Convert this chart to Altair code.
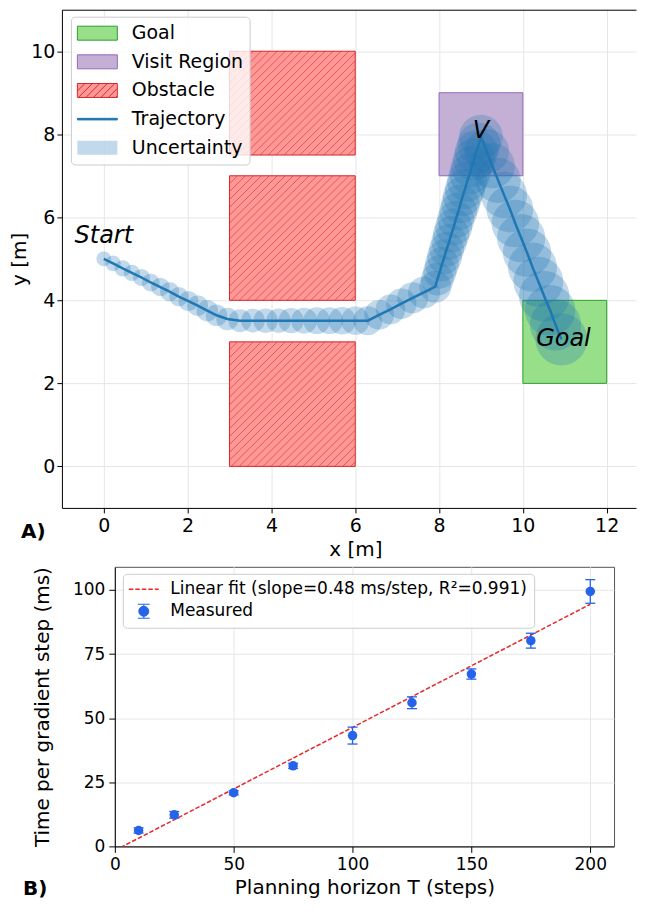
import math
import altair as alt
import pandas as pd

# ---------------- Panel A data ----------------
obs_x0 = [3.0, 3.0, 3.0]
obs_x1 = [6.0, 6.0, 6.0]
obs_y0 = [0.0, 4.0, 7.5]
obs_y1 = [3.0, 7.0, 10.0]

visit_x0, visit_x1, visit_y0, visit_y1 = [8.0], [10.0], [7.0], [9.0]
goal_x0, goal_x1, goal_y0, goal_y1 = [10.0], [12.0], [2.0], [4.0]

traj_x = [0.00, 0.22, 0.45, 0.67, 0.90, 1.12, 1.35, 1.57, 1.79, 2.02, 2.24, 2.47, 2.69,
          2.95, 3.25, 3.56, 3.86, 4.17, 4.47, 4.78, 5.08, 5.39, 5.69, 6.00, 6.30,
          6.57, 6.84, 7.10, 7.37, 7.64, 7.91,
          7.96, 8.02, 8.07, 8.13, 8.18, 8.24, 8.29, 8.35, 8.40, 8.46,
          8.51, 8.56, 8.62, 8.67, 8.73, 8.78, 8.84, 8.89, 8.95, 9.00,
          9.14, 9.27, 9.41, 9.55, 9.69, 9.82, 9.96, 10.10, 10.23, 10.37, 10.51, 10.65, 10.78, 10.92]
traj_y = [5.00, 4.89, 4.77, 4.66, 4.55, 4.43, 4.32, 4.21, 4.09, 3.98, 3.87, 3.75, 3.64,
          3.55, 3.51, 3.51, 3.51, 3.51, 3.51, 3.51, 3.51, 3.51, 3.51, 3.51, 3.51,
          3.65, 3.78, 3.92, 4.06, 4.19, 4.33,
          4.51, 4.69, 4.87, 5.05, 5.23, 5.41, 5.59, 5.77, 5.95, 6.14,
          6.32, 6.50, 6.68, 6.86, 7.04, 7.22, 7.40, 7.58, 7.76, 7.94,
          7.59, 7.24, 6.89, 6.54, 6.20, 5.85, 5.50, 5.15, 4.80, 4.45, 4.10, 3.76, 3.41, 3.06]
traj_r = [0.20, 0.21, 0.22, 0.22, 0.23, 0.24, 0.25, 0.26, 0.26, 0.27, 0.28, 0.29, 0.29,
          0.30, 0.31, 0.32, 0.33, 0.33, 0.34, 0.35, 0.36, 0.36, 0.37, 0.38, 0.39,
          0.40, 0.40, 0.41, 0.42, 0.43, 0.43,
          0.44, 0.45, 0.46, 0.47, 0.47, 0.48, 0.49, 0.50, 0.50, 0.51,
          0.52, 0.53, 0.54, 0.54, 0.55, 0.56, 0.57, 0.58, 0.58, 0.59,
          0.60, 0.61, 0.61, 0.62, 0.63, 0.64, 0.65, 0.65, 0.66, 0.67, 0.68, 0.68, 0.69, 0.70]

label_text = ["Start", "V", "Goal"]
label_x = [0.0, 9.0, 10.97]
label_y = [5.55, 8.07, 3.07]

legend_a_names = ["Goal", "Visit Region", "Obstacle", "Trajectory", "Uncertainty"]

# ---------------- Panel B data ----------------
horizon = [10, 25, 50, 75, 100, 125, 150, 175, 200]
time_ms = [6.2, 12.3, 20.9, 31.4, 43.2, 56.0, 67.2, 80.2, 99.4]
time_err = [1.0, 1.3, 0.8, 1.0, 3.3, 2.3, 2.0, 2.9, 4.6]
fit_x = [0, 200]
fit_y = [-1.6, 94.4]
legend_b_names = ["Linear fit (slope=0.48 ms/step, R\u00b2=0.991)", "Measured"]

# ---------------- styling helpers ----------------
PX_PER_UNIT = 42.0
BLUE = "#1f77b4"
PT_BLUE = "#2563eb"
FIT_RED = "#e8282b"


def hatch_segments(x0, x1, y0, y1, step):
    segs = []
    h = y1 - y0
    c = x0 - h
    while c < x1:
        sx = max(c, x0)
        ex = min(c + h, x1)
        if ex - sx > 1e-6:
            segs.append((sx, y0 + (sx - c), ex, y0 + (ex - c)))
        c += step
    return segs


def rect_path(hw, hh):
    return f"M{-hw},{-hh}H{hw}V{hh}H{-hw}Z"


def hatched_rect_path(hw, hh, step):
    p = rect_path(hw, hh)
    c = -hw - 2 * hh
    while c < hw:
        sx = max(c, -hw)
        ex = min(c + 2 * hh, hw)
        if ex - sx > 1e-6:
            p += f"M{sx:.3f},{hh - (sx - c):.3f}L{ex:.3f},{hh - (ex - c):.3f}"
        c += step
    return p


def dashed_path(hw, t, on, off):
    p = ""
    x = -hw
    while x < hw:
        e = min(x + on, hw)
        p += f"M{x:.3f},{-t}H{e:.3f}V{t}H{x:.3f}Z"
        x += on + off
    return p


def errorbar_path(r, bar, cap):
    return (f"M{-r},0A{r},{r} 0 1,0 {r},0A{r},{r} 0 1,0 {-r},0Z"
            f"M0,{-bar}V{bar}M{-cap},{-bar}H{cap}M{-cap},{bar}H{cap}")


# ---------------- data frames ----------------
obs_df = pd.DataFrame({"x0": obs_x0, "x1": obs_x1, "y0": obs_y0, "y1": obs_y1})
hs = []
for a, b, c, d in zip(obs_x0, obs_x1, obs_y0, obs_y1):
    hs += hatch_segments(a, b, c, d, 0.19)
hatch_df = pd.DataFrame(hs, columns=["hx0", "hy0", "hx1", "hy1"])
visit_df = pd.DataFrame({"x0": visit_x0, "x1": visit_x1, "y0": visit_y0, "y1": visit_y1})
goal_df = pd.DataFrame({"x0": goal_x0, "x1": goal_x1, "y0": goal_y0, "y1": goal_y1})
traj_df = pd.DataFrame({"i": list(range(len(traj_x))), "x": traj_x, "y": traj_y, "r": traj_r})
lab_df = pd.DataFrame({"t": label_text, "x": label_x, "y": label_y})
lega_df = pd.DataFrame({"cat": legend_a_names, "px": [float("nan")] * 5, "py": [float("nan")] * 5})

meas_df = pd.DataFrame({"T": horizon, "ms": time_ms, "err": time_err})
fit_df = pd.DataFrame({"T": fit_x, "ms": fit_y})
legb_df = pd.DataFrame({"cat": legend_b_names, "px": [float("nan")] * 2, "py": [float("nan")] * 2})

# ---------------- Panel A ----------------
WA, HA = 575, 499
xsA = alt.Scale(domain=[-1, 12.7], nice=False, zero=False)
ysA = alt.Scale(domain=[-1, 11], nice=False, zero=False)
common_axis = dict(tickColor="black", domainColor="black", labelColor="black",
                   titleColor="black", gridColor="#e6e6e6", titleFontWeight="normal",
                   minExtent=0)
x_axis_A = alt.Axis(values=[0, 2, 4, 6, 8, 10, 12], title="x [m]", titleX=294,
                    labelFontSize=19, titleFontSize=20, tickSize=5, labelPadding=4,
                    titlePadding=4, labelFlush=False, **common_axis)
x_axis_top = alt.Axis(orient="top", labels=False, ticks=False, title=None, domain=True,
                      domainColor="black", grid=False, minExtent=0)
y_axis_A = alt.Axis(values=[0, 2, 4, 6, 8, 10], title="y [m]", labelFontSize=19,
                    titleFontSize=20, tickSize=5, labelPadding=2, titlePadding=1,
                    labelFlush=False, **common_axis)


def XA(f, axis=None):
    if axis is None:
        return alt.X(f, scale=xsA, axis=None)
    return alt.X(f, scale=xsA, axis=axis)


def YA(f):
    return alt.Y(f, scale=ysA, axis=y_axis_A)


obs_layer = alt.Chart(obs_df).mark_rect(fill="#ff9896", stroke="#d62728", strokeWidth=1).encode(
    x=XA("x0:Q", x_axis_A), x2="x1:Q", y=YA("y0:Q"), y2="y1:Q")
hatch_layer = alt.Chart(hatch_df).mark_rule(color="#d62728", strokeWidth=0.9, opacity=0.65).encode(
    x=XA("hx0:Q", x_axis_top), x2="hx1:Q", y=YA("hy0:Q"), y2="hy1:Q")
visit_layer = alt.Chart(visit_df).mark_rect(fill="#c5b0d5", stroke="#9467bd", strokeWidth=1).encode(
    x=XA("x0:Q"), x2="x1:Q", y=YA("y0:Q"), y2="y1:Q")
goal_layer = alt.Chart(goal_df).mark_rect(fill="#98df8a", stroke="#2ca02c", strokeWidth=1).encode(
    x=XA("x0:Q"), x2="x1:Q", y=YA("y0:Q"), y2="y1:Q")
circ_layer = alt.Chart(traj_df).mark_circle(color=BLUE, opacity=0.28).encode(
    x=XA("x:Q"), y=YA("y:Q"),
    size=alt.Size("r:Q", scale=alt.Scale(type="pow", exponent=2, domain=[0, 1],
                                         range=[0, math.pi * PX_PER_UNIT ** 2]), legend=None))
line_layer = alt.Chart(traj_df).mark_line(color=BLUE, strokeWidth=2.5).encode(
    x=XA("x:Q"), y=YA("y:Q"), order=alt.Order("i:Q"))
text_layer = alt.Chart(lab_df).mark_text(fontSize=24, fontStyle="italic", color="black",
                                         align="center", baseline="middle").encode(
    x=XA("x:Q"), y=YA("y:Q"), text="t:N")
panel_a_label = alt.Chart(pd.DataFrame({"t": ["A)"]})).mark_text(
    fontSize=20, fontWeight="bold", align="left", baseline="alphabetic", color="black").encode(
    x=alt.value(-41), y=alt.value(529), text="t:N")

lega_paths = [rect_path(2, 0.7), rect_path(2, 0.7), hatched_rect_path(2, 0.7, 0.75),
              rect_path(2, 0.08), rect_path(2, 0.7)]
lega_fill = ["#98df8a", "#c5b0d5", "#ff9896", BLUE, "rgba(31,119,180,0.28)"]
lega_stroke = ["#2ca02c", "#9467bd", "#d62728", BLUE, "rgba(0,0,0,0)"]
legA = alt.Legend(title=None, orient="none", legendX=9, legendY=7,
                  fillColor="rgba(255,255,255,0.8)", strokeColor="#cccccc", cornerRadius=4,
                  padding=6, labelFontSize=19, labelColor="black", symbolSize=400,
                  symbolStrokeWidth=1, symbolOffset=10, labelOffset=24, rowPadding=7.7,
                  labelLimit=400)
lega_layer = alt.Chart(lega_df).mark_point(filled=True, opacity=1, strokeWidth=1).encode(
    x=XA("px:Q"), y=YA("py:Q"),
    fill=alt.Fill("cat:N", scale=alt.Scale(domain=legend_a_names, range=lega_fill), legend=legA),
    stroke=alt.Stroke("cat:N", scale=alt.Scale(domain=legend_a_names, range=lega_stroke), legend=legA),
    shape=alt.Shape("cat:N", scale=alt.Scale(domain=legend_a_names, range=lega_paths), legend=legA))

panel_a = alt.layer(obs_layer, hatch_layer, visit_layer, goal_layer, circ_layer, line_layer,
                    text_layer, panel_a_label, lega_layer).resolve_axis(x="independent").properties(
    width=WA, height=HA, view=alt.ViewBackground(stroke="transparent"))

# ---------------- Panel B ----------------
WB, HB = 500, 280
xsB = alt.Scale(domain=[0, 210], nice=False, zero=False)
ysB = alt.Scale(domain=[0, 109], nice=False, zero=False)
x_axis_B = alt.Axis(values=[0, 50, 100, 150, 200], title="Planning horizon T (steps)",
                    labelFontSize=17, titleFontSize=20, tickSize=6, labelPadding=4,
                    titlePadding=5, labelFlush=False, **common_axis)
y_axis_B = alt.Axis(values=[0, 25, 50, 75, 100], title="Time per gradient step (ms)",
                    labelFontSize=17, titleFontSize=20, tickSize=6, labelPadding=4,
                    titlePadding=20, labelFlush=False, **common_axis)


def XB(f):
    return alt.X(f, scale=xsB, axis=x_axis_B)


def YB(f):
    return alt.Y(f, scale=ysB, axis=y_axis_B)


fit_layer = alt.Chart(fit_df).mark_line(color=FIT_RED, strokeDash=[4.5, 2], strokeWidth=1.5,
                                        clip=True).encode(x=XB("T:Q"), y=YB("ms:Q"))
base_meas = alt.Chart(meas_df).transform_calculate(lo="datum.ms - datum.err",
                                                   hi="datum.ms + datum.err")
err_layer = base_meas.mark_rule(color=PT_BLUE, strokeWidth=1.3).encode(
    x=XB("T:Q"), y=YB("lo:Q"), y2="hi:Q")
cap_lo = base_meas.mark_tick(color=PT_BLUE, orient="horizontal", size=10, thickness=1.3,
                             opacity=1).encode(x=XB("T:Q"), y=YB("lo:Q"))
cap_hi = base_meas.mark_tick(color=PT_BLUE, orient="horizontal", size=10, thickness=1.3,
                             opacity=1).encode(x=XB("T:Q"), y=YB("hi:Q"))
pt_layer = alt.Chart(meas_df).mark_circle(color=PT_BLUE, size=90, opacity=1).encode(
    x=XB("T:Q"), y=YB("ms:Q"))

legb_paths = [dashed_path(2.14, 0.107, 0.64, 0.29), errorbar_path(0.714, 1.0, 0.857)]
legb_fill = [FIT_RED, PT_BLUE]
legb_stroke = ["rgba(0,0,0,0)", PT_BLUE]
legB = alt.Legend(title=None, orient="none", legendX=8, legendY=7,
                  fillColor="rgba(255,255,255,0.8)", strokeColor="#cccccc", cornerRadius=4,
                  padding=7, labelFontSize=17, labelColor="black", symbolSize=196,
                  symbolStrokeWidth=1, symbolOffset=5.5, labelOffset=18, rowPadding=4,
                  labelLimit=600)
legb_layer = alt.Chart(legb_df).mark_point(filled=True, opacity=1, strokeWidth=1).encode(
    x=XB("px:Q"), y=YB("py:Q"),
    fill=alt.Fill("cat:N", scale=alt.Scale(domain=legend_b_names, range=legb_fill), legend=legB),
    stroke=alt.Stroke("cat:N", scale=alt.Scale(domain=legend_b_names, range=legb_stroke), legend=legB),
    shape=alt.Shape("cat:N", scale=alt.Scale(domain=legend_b_names, range=legb_paths), legend=legB))
panel_b_label = alt.Chart(pd.DataFrame({"t": ["B)"]})).mark_text(
    fontSize=20, fontWeight="bold", align="left", baseline="alphabetic", color="black").encode(
    x=alt.value(-92), y=alt.value(329), text="t:N")

panel_b = alt.layer(fit_layer, err_layer, cap_lo, cap_hi, pt_layer, legb_layer,
                    panel_b_label).properties(
    width=WB, height=HB, view=alt.ViewBackground(stroke="#555555"))

spacer = alt.Chart(pd.DataFrame({"a": [0]})).mark_point(opacity=0).encode(
    x=alt.value(0), y=alt.value(0)).properties(
    width=53, height=10, view=alt.ViewBackground(stroke="transparent"))

indep = dict(fill="independent", stroke="independent", shape="independent")
row_a = alt.hconcat(panel_a, spacing=0).resolve_scale(**indep)
row_b = alt.hconcat(spacer, panel_b, spacing=0, bounds="flush").resolve_scale(**indep)

chart = alt.vconcat(row_a, row_b, spacing=2).resolve_scale(**indep).properties(
    padding={"left": 1, "top": 0, "right": 0, "bottom": 0}
).configure(font="DejaVu Sans")

chart.save("out.html", embed_options={"renderer": "svg", "actions": False})
